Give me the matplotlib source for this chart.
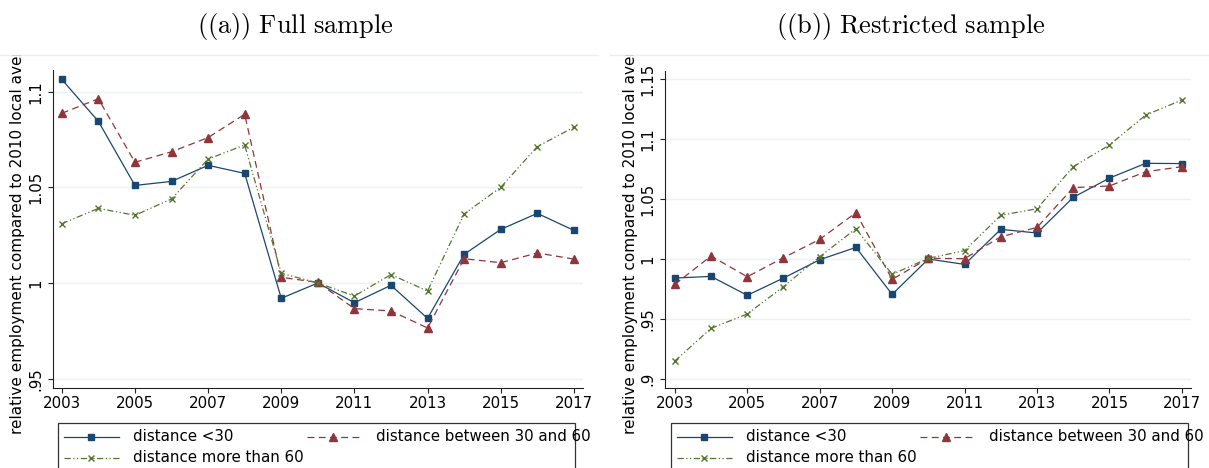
import matplotlib
matplotlib.use("Agg")
import matplotlib.pyplot as plt
from matplotlib.lines import Line2D
from matplotlib.patches import Rectangle
from matplotlib.transforms import Bbox, TransformedBbox

plt.rcParams['font.family'] = ['DejaVu Sans']
plt.rcParams['mathtext.fontset'] = 'cm'

years = list(range(2003, 2018))

# (a) full sample
full_lt30 = [1.1064, 1.0845, 1.0510, 1.0531, 1.0615, 1.0573, 0.9920, 1.0000,
             0.9897, 0.9988, 0.9815, 1.0150, 1.0280, 1.0364, 1.0275]
full_30_60 = [1.0887, 1.0963, 1.0631, 1.0686, 1.0760, 1.0882, 1.0030, 1.0003,
              0.9866, 0.9854, 0.9765, 1.0127, 1.0106, 1.0157, 1.0125]
full_gt60 = [1.0310, 1.0390, 1.0354, 1.0439, 1.0648, 1.0721, 1.0051, 1.0000,
             0.9932, 1.0044, 0.9958, 1.0361, 1.0500, 1.0713, 1.0814]

# (b) restricted sample
restr_lt30 = [0.9841, 0.9855, 0.9697, 0.9841, 0.9994, 1.0097, 0.9705, 1.0000,
              0.9955, 1.0248, 1.0217, 1.0515, 1.0676, 1.0799, 1.0797]
restr_30_60 = [0.9788, 1.0025, 0.9852, 1.0011, 1.0164, 1.0387, 0.9830, 1.0006,
               1.0003, 1.0186, 1.0264, 1.0596, 1.0610, 1.0729, 1.0771]
restr_gt60 = [0.9148, 0.9421, 0.9541, 0.9769, 1.0019, 1.0253, 0.9872, 1.0006,
              1.0070, 1.0365, 1.0420, 1.0771, 1.0952, 1.1202, 1.1328]

xticks = [2003, 2005, 2007, 2009, 2011, 2013, 2015, 2017]
yticks_a = [0.95, 1.0, 1.05, 1.1]
yticklabels_a = ['.95', '1', '1.05', '1.1']
yticks_b = [0.9, 0.95, 1.0, 1.05, 1.1, 1.15]
yticklabels_b = ['.9', '.95', '1', '1.05', '1.1', '1.15']

labels = ['distance <30', 'distance between 30 and 60', 'distance more than 60']
colors = ['#1a476f', '#90353b', '#55752f']

W, H = 1209, 468
fig = plt.figure(figsize=(W / 100, H / 100), dpi=100)


def fx(px):
    return px / W


def fy(py):
    return 1 - py / H


styles = [
    dict(ls='-', marker='s', ms=5.0),
    dict(ls=(0, (5.5, 3.5)), marker='^', ms=5.6),
    dict(ls=(0, (5, 2, 1, 2, 1, 2)), marker='x', ms=3.8, mew=1.0),
]

panels = [
    dict(rect=[53, 70, 583, 388], series=[full_lt30, full_30_60, full_gt60],
         ylim=(0.94512, 1.11133), xlim=(2002.76, 2017.25),
         yticks=yticks_a, yticklabels=yticklabels_a,
         title=r'$\mathrm{((a))\ Full\ sample}$', tx=295, off=0),
    dict(rect=[665, 71, 1191, 388], series=[restr_lt30, restr_30_60, restr_gt60],
         ylim=(0.8923, 1.1570), xlim=(2002.73, 2017.25),
         yticks=yticks_b, yticklabels=yticklabels_b,
         title=r'$\mathrm{((b))\ Restricted\ sample}$', tx=911, off=613),
]

for p in panels:
    x0, y0, x1, y1 = p['rect']
    ax = fig.add_axes([fx(x0), fy(y1), (x1 - x0) / W, (y1 - y0) / H])
    for vals, col, st in zip(p['series'], colors, styles):
        ax.plot(years, vals, color=col, lw=0.9, mec=col, mfc=col, **st)
    ax.set_xlim(*p['xlim'])
    ax.set_ylim(*p['ylim'])
    ax.set_xticks(xticks)
    ax.set_yticks(p['yticks'])
    ax.set_yticklabels(p['yticklabels'], rotation=90, va='center')
    for y in p['yticks']:
        ax.axhline(y, color='#eaf2f3', lw=1.0, zorder=0)
    for s in ['top', 'right']:
        ax.spines[s].set_visible(False)
    for s in ['left', 'bottom']:
        ax.spines[s].set_color('#222222')
        ax.spines[s].set_linewidth(0.8)
    ax.tick_params(axis='both', direction='out', length=3.8, width=0.8,
                   color='#222222', labelsize=10.8)
    ax.tick_params(axis='x', pad=2)
    ax.tick_params(axis='y', pad=3)

    # title
    fig.text(fx(p['tx']), fy(27), p['title'], ha='center', va='center', fontsize=19)

    # faint frame line at top of subfigure
    lx0 = 0 if p['off'] == 0 else 610
    lx1 = 598 if p['off'] == 0 else W
    fig.add_artist(Line2D([fx(lx0), fx(lx1)], [fy(55), fy(55)],
                          color='#eeeeee', lw=1.0))

    # y label, clipped at top of subfigure
    off = p['off']
    yl = fig.text(fx(18 + off), fy(434), 'relative employment compared to 2010 local average',
                  rotation=90, ha='center', va='bottom', fontsize=11)
    yl.set_clip_box(TransformedBbox(Bbox([[fx(off), 0], [fx(off + 598), fy(55)]]),
                                    fig.transFigure))
    yl.set_clip_on(True)

    # legend box (cut at bottom of image)
    fig.add_artist(Rectangle((fx(58 + off), fy(480)), (575 - 58) / W, (480 - 422.7) / H,
                             transform=fig.transFigure, fill=False,
                             edgecolor='#333333', lw=0.9))
    entries = [(64, 119, 91, 436.7, 133), (307, 362, 333, 436.7, 376),
               (64, 119, 91, 457.7, 133)]
    for (hx0, hx1, mx, ry, tx), col, st, lab in zip(entries, colors, styles, labels):
        fig.add_artist(Line2D([fx(hx0 + off), fx(hx1 + off)], [fy(ry), fy(ry)],
                              color=col, lw=0.9, ls=st['ls']))
        fig.add_artist(Line2D([fx(mx + off)], [fy(ry)], color=col, marker=st['marker'],
                              ms=st['ms'], mew=st.get('mew', 1.0), mec=col, mfc=col,
                              ls='none'))
        fig.text(fx(tx + off), fy(ry), lab, ha='left', va='center', fontsize=10.8)

fig.savefig('out.png', dpi=100)
